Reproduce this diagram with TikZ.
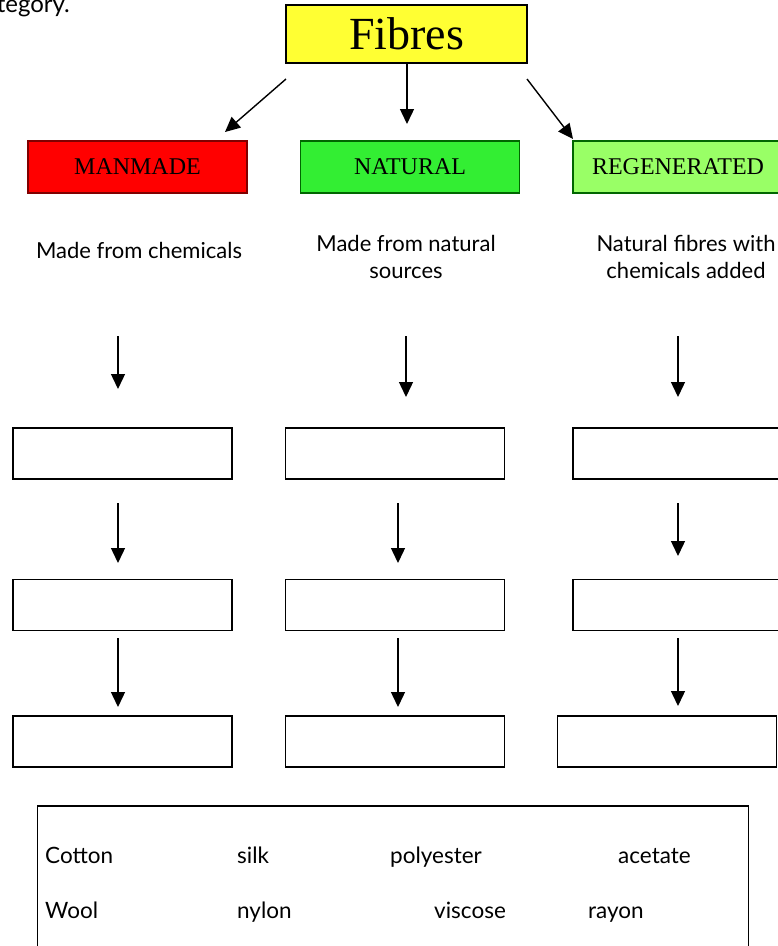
\documentclass[tikz,border=0pt]{standalone}
\usepackage{fontspec}
\setmainfont{Liberation Serif}
\newfontfamily\gsans{Lato}
\usetikzlibrary{arrows.meta}
\definecolor{fyellow}{HTML}{FFFF33}
\definecolor{mred}{HTML}{FF0000}
\definecolor{mredb}{HTML}{800000}
\definecolor{ngreen}{HTML}{33EE33}
\definecolor{ngreenb}{HTML}{006600}
\definecolor{rgreen}{HTML}{99FF66}
\tikzset{
  catbox/.style={draw, line width=1.4pt, minimum width=219pt, minimum height=52pt, inner sep=0pt, outer sep=0pt, font=\fontsize{24}{24}\selectfont},
  blank/.style={draw=black, line width=1.4pt, minimum width=219pt, minimum height=51pt, inner sep=0pt, outer sep=0pt},
  arr/.style={line width=1.4pt, -{Triangle[width=14pt,length=15pt]}},
  desc/.style={font=\gsans\fontsize{22}{27}\selectfont, align=center, inner sep=0pt},
  word/.style={font=\gsans\fontsize{22.5}{22.5}\selectfont, anchor=base west, inner sep=0pt}
}
\begin{document}
\begin{tikzpicture}[x=1pt,y=-1pt]
\useasboundingbox (0,0) rectangle (778,946);
% partial heading text
\node[font=\gsans\fontsize{24}{24}\selectfont, anchor=base east, inner sep=0pt] (head) at (70,12) {into each category.};
% top node
\node[draw, line width=1.4pt, fill=fyellow, minimum width=241pt, minimum height=58pt, inner sep=0pt, outer sep=0pt, font=\fontsize{46}{46}\selectfont] (fib) at (406.5,34) {Fibres};
% category boxes
\node[catbox, fill=mred, draw=mredb] (man) at (137.5,167) {MANMADE};
\node[catbox, fill=ngreen, draw=ngreenb] (nat) at (410,167) {NATURAL};
\node[catbox, fill=rgreen, draw=ngreenb, minimum width=217pt, text width=217pt, align=left] (reg) at (681.5,167) {\hspace{19pt}REGENERATED};
% arrows from top
\coordinate (a1s) at (286,79); \coordinate (a1e) at (225,132);
\coordinate (a2s) at (407,63); \coordinate (a2e) at (407,124);
\coordinate (a3s) at (527,79); \coordinate (a3e) at (573,139);
\draw[arr] (a1s) -- (a1e);
\draw[arr] (a2s) -- (a2e);
\draw[arr] (a3s) -- (a3e);
% descriptions
\node[desc, anchor=base] (d1) at (139,258) {Made from chemicals};
\node[desc, anchor=north] (d2) at (406,235) {Made from natural\\sources};
\node[desc, anchor=north] (d3) at (686,235) {Natural fibres with\\chemicals added};
% blank boxes
\node[blank] (b11) at (122.5,453.5) {};
\node[blank] (b12) at (395,453.5) {};
\node[blank] (b13) at (682.5,453.5) {};
\node[blank] (b21) at (122.5,605) {};
\node[blank] (b22) at (395,605) {};
\node[blank] (b23) at (682.5,605) {};
\node[blank] (b31) at (122.5,741.5) {};
\node[blank] (b32) at (395,741.5) {};
\node[blank] (b33) at (667,741.5) {};
% arrow coordinates
\coordinate (c1a) at (118,336); \coordinate (c1b) at (118,389);
\coordinate (c2a) at (406,336); \coordinate (c2b) at (406,397);
\coordinate (c3a) at (678,336); \coordinate (c3b) at (678,397);
\coordinate (c4a) at (118,503); \coordinate (c4b) at (118,563);
\coordinate (c5a) at (398,503); \coordinate (c5b) at (398,563);
\coordinate (c6a) at (678,503); \coordinate (c6b) at (678,556);
\coordinate (c7a) at (118,638); \coordinate (c7b) at (118,707);
\coordinate (c8a) at (398,638); \coordinate (c8b) at (398,707);
\coordinate (c9a) at (678,638); \coordinate (c9b) at (678,706);
\foreach \i in {1,...,9} {\draw[arr] (c\i a) -- (c\i b);}
% word bank
\node[draw=black, line width=1.4pt, minimum width=711pt, minimum height=180pt, inner sep=0pt, outer sep=0pt, anchor=north west] (bank) at (37.5,806) {};
\node[word] (w1) at (45,863) {Cotton};
\node[word] (w2) at (237,863) {silk};
\node[word] (w3) at (390,863) {polyester};
\node[word] (w4) at (618,863) {acetate};
\node[word] (w5) at (45,918) {Wool};
\node[word] (w6) at (237,918) {nylon};
\node[word] (w7) at (434,918) {viscose};
\node[word] (w8) at (588,918) {rayon};
\end{tikzpicture}
\end{document}
